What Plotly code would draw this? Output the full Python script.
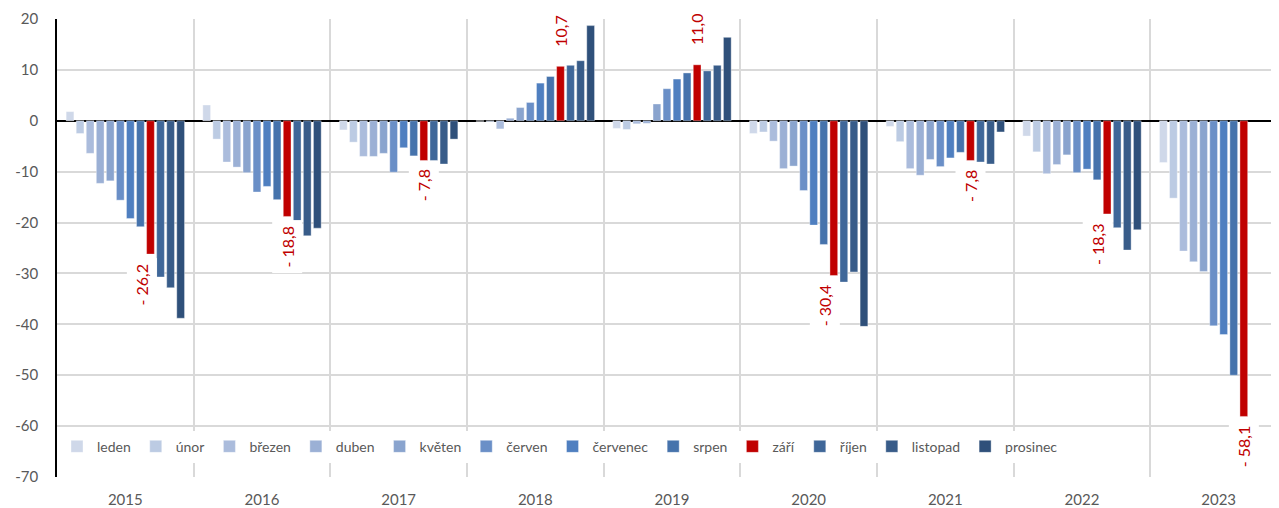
import plotly.graph_objects as go

years = ["2015", "2016", "2017", "2018", "2019", "2020", "2021", "2022", "2023"]
months = ["leden", "únor", "březen", "duben", "květen", "červen",
          "červenec", "srpen", "září", "říjen", "listopad", "prosinec"]

leden    = [1.8, 3.1, -1.8, -0.1, -1.5, -2.5, -1.1, -3.0, -8.2]
unor     = [-2.5, -3.6, -4.2, -0.2, -1.7, -2.2, -4.1, -6.1, -15.2]
brezen   = [-6.4, -8.1, -7.0, -1.6, -0.6, -4.0, -9.4, -10.4, -25.6]
duben    = [-12.3, -9.1, -7.0, 0.5, -0.5, -9.4, -10.7, -8.6, -27.7]
kveten   = [-11.8, -10.2, -6.4, 2.6, 3.3, -8.9, -7.6, -6.7, -29.6]
cerven   = [-15.6, -14.0, -10.1, 3.6, 6.3, -13.7, -9.0, -10.2, -40.3]
cervenec = [-19.2, -12.9, -5.3, 7.4, 8.2, -20.5, -7.3, -9.5, -42.0]
srpen    = [-20.8, -15.5, -6.9, 8.7, 9.4, -24.3, -6.2, -11.6, -50.0]
zari     = [-26.2, -18.8, -7.8, 10.7, 11.0, -30.4, -7.8, -18.3, -58.1]
rijen    = [-30.7, -19.7, -7.8, 10.9, 9.8, -31.7, -8.1, -21.0, None]
listopad = [-32.8, -22.6, -8.5, 11.8, 10.9, -29.7, -8.5, -25.4, None]
prosinec = [-38.8, -21.1, -3.6, 18.7, 16.4, -40.4, -2.2, -21.4, None]

series = [leden, unor, brezen, duben, kveten, cerven,
          cervenec, srpen, zari, rijen, listopad, prosinec]

colors = ["#cfd8e9", "#bccbe3", "#abbcdc", "#9bb0d5", "#8aa4ce", "#6a8fc7",
          "#4f7fc0", "#4673ac", "#c00000", "#3f6799", "#385c89", "#2f507a"]

y_ticks = [20, 10, 0, -10, -20, -30, -40, -50, -60, -70]

FONT = "Lato, 'Open Sans', sans-serif"
GRAY = "#595959"
RED = "#c00000"
BARGAP = 0.117
GROUPGAP = 0.23

fig = go.Figure()
for name, vals, col in zip(months, series, colors):
    fig.add_trace(go.Bar(
        name=name, x=years, y=vals,
        marker=dict(color=col, line=dict(width=0.6, color="rgba(255,255,255,0.6)")),
    ))

# labels of září (September) values
idx = months.index("září")
offset = ((idx + 0.5) / len(months) - 0.5) * (1 - BARGAP)
for i, v in enumerate(zari):
    txt = f"{abs(v):.1f}".replace(".", ",")
    if v < 0:
        txt = "- " + txt
    nxt = rijen[i]
    # nudge the label left when the neighbouring bar reaches into it
    collide = v < 0 and nxt is not None and nxt < v - 1.0
    fig.add_annotation(
        x=i + offset, y=v, xref="x", yref="y",
        text=txt, textangle=-90, showarrow=False,
        yanchor="top" if v < 0 else "middle",
        yshift=-3 if v < 0 else 35,
        xshift=-9 if collide else 0,
        bgcolor="white", borderpad=5,
        font=dict(family=FONT, size=16, color=RED),
    )

fig.update_layout(
    width=1279, height=508,
    margin=dict(l=49, r=0, t=11, b=39),
    paper_bgcolor="white", plot_bgcolor="white",
    barmode="group", bargap=BARGAP, bargroupgap=GROUPGAP,
    font=dict(family=FONT, size=15, color=GRAY),
    showlegend=True,
    legend=dict(
        orientation="h", x=0.0, xanchor="left", y=0.066, yanchor="middle",
        bgcolor="white", font=dict(family=FONT, size=14, color=GRAY),
        itemwidth=30, traceorder="normal",
    ),
    xaxis=dict(
        type="category", range=[-0.5, 8.5],
        tickson="boundaries", ticks="", showgrid=True,
        gridcolor="#d9d9d9", gridwidth=2,
        showline=False, zeroline=False, ticklabelstandoff=12,
        tickfont=dict(family=FONT, size=15, color=GRAY),
    ),
    yaxis=dict(
        range=[-70, 20], tickvals=y_ticks, ticktext=[str(t) for t in y_ticks],
        showgrid=True, gridcolor="#d9d9d9", gridwidth=2,
        zeroline=True, zerolinecolor="black", zerolinewidth=1.5,
        showline=True, linecolor="black", linewidth=1.5,
        ticks="", ticklabelstandoff=14,
        tickfont=dict(family=FONT, size=15, color=GRAY),
    ),
)

fig.write_html("out.html")
